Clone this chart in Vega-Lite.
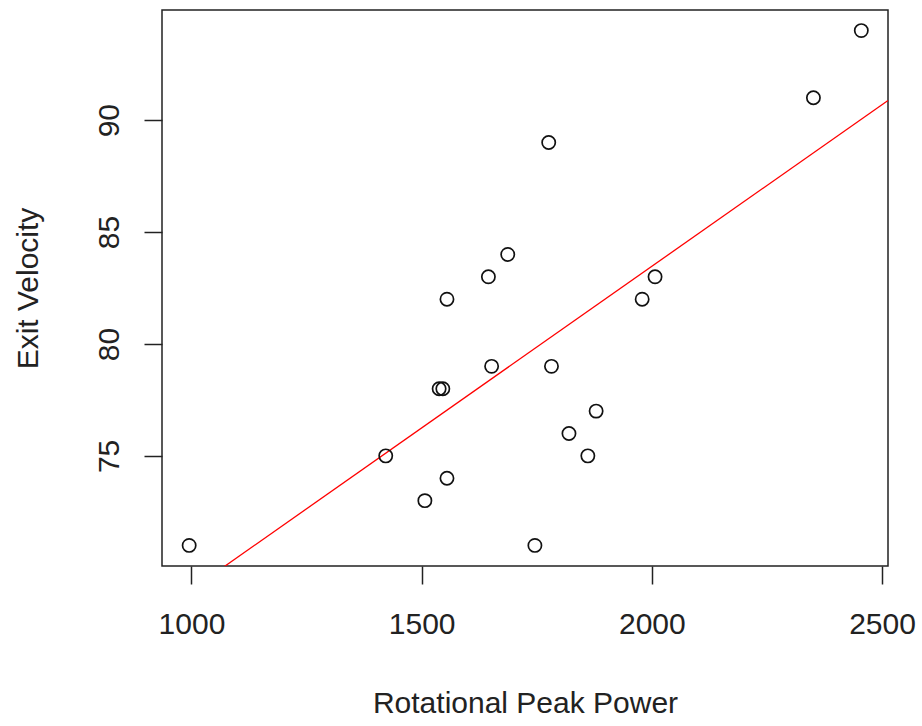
{
  "$schema": "https://vega.github.io/schema/vega-lite/v6.json",
  "width": 726,
  "height": 556,
  "autosize": "none",
  "padding": {"left": 162, "top": 10, "right": 34, "bottom": 160},
  "background": "white",
  "config": {
    "view": {"stroke": "#222222", "strokeWidth": 1.5},
    "font": "Liberation Sans",
    "axis": {
      "grid": false,
      "domain": false,
      "tickColor": "#222222",
      "tickWidth": 1.5,
      "tickSize": 18,
      "labelColor": "#222222",
      "labelFontSize": 30,
      "labelFont": "Liberation Sans",
      "titleColor": "#222222",
      "titleFontSize": 30,
      "titleFont": "Liberation Sans",
      "titleFontWeight": "normal"
    }
  },
  "datasets": {
    "points": [
      {"power": 995, "velocity": 71},
      {"power": 1422, "velocity": 75},
      {"power": 1507, "velocity": 73},
      {"power": 1555, "velocity": 74},
      {"power": 1538, "velocity": 78},
      {"power": 1546, "velocity": 78},
      {"power": 1555, "velocity": 82},
      {"power": 1645, "velocity": 83},
      {"power": 1687, "velocity": 84},
      {"power": 1652, "velocity": 79},
      {"power": 1746, "velocity": 71},
      {"power": 1776, "velocity": 89},
      {"power": 1782, "velocity": 79},
      {"power": 1820, "velocity": 76},
      {"power": 1861, "velocity": 75},
      {"power": 1879, "velocity": 77},
      {"power": 1979, "velocity": 82},
      {"power": 2007, "velocity": 83},
      {"power": 2351, "velocity": 91},
      {"power": 2455, "velocity": 94}
    ],
    "fit": [
      {"power": 936, "velocity": 68.1},
      {"power": 2513, "velocity": 90.88}
    ]
  },
  "encoding": {
    "x": {
      "field": "power",
      "type": "quantitative",
      "scale": {"domain": [936, 2513], "nice": false, "zero": false},
      "axis": {
        "title": "Rotational Peak Power",
        "values": [1000, 1500, 2000, 2500],
        "format": "d",
        "labelPadding": 25,
        "titlePadding": 49
      }
    },
    "y": {
      "field": "velocity",
      "type": "quantitative",
      "scale": {"domain": [70.08, 94.92], "nice": false, "zero": false},
      "axis": {
        "title": "Exit Velocity",
        "values": [75, 80, 85, 90],
        "labelAngle": -90,
        "labelAlign": "center",
        "labelBaseline": "alphabetic",
        "labelPadding": 26,
        "titlePadding": 51
      }
    }
  },
  "layer": [
    {
      "data": {"name": "fit"},
      "mark": {"type": "line", "color": "#ff0000", "strokeWidth": 1.3, "clip": true}
    },
    {
      "data": {"name": "points"},
      "mark": {"type": "point", "shape": "circle", "filled": false, "stroke": "#111111", "strokeWidth": 1.7, "size": 175, "opacity": 1}
    }
  ]
}
